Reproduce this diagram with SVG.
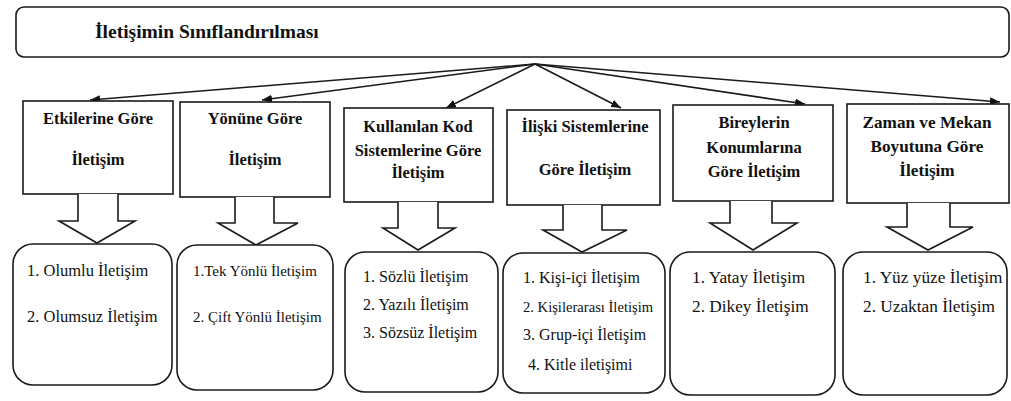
<svg xmlns="http://www.w3.org/2000/svg" width="1011" height="401" viewBox="0 0 1011 401">
<style>
.bx{fill:#fff;stroke:#1a1a1a;stroke-width:1.6}
.ba{fill:#fff;stroke:#1a1a1a;stroke-width:1.6;stroke-linejoin:miter}
.ln{stroke:#1a1a1a;stroke-width:1.6;fill:none}
.ttl{font-family:"Liberation Serif","Times New Roman",serif;font-weight:bold;font-size:19.5px;fill:#111}
.cat{font-family:"Liberation Serif","Times New Roman",serif;font-weight:bold;font-size:16.5px;fill:#111;text-anchor:middle}
.itm{font-family:"Liberation Serif","Times New Roman",serif;font-size:16px;fill:#111}
.c6{font-size:17.2px}
.s1{font-size:16.5px}
.s2{font-size:15px}
.s4{font-size:14.6px}
.s5{font-size:17.3px}
</style>
<defs>
<marker id="ah" markerUnits="userSpaceOnUse" markerWidth="10" markerHeight="8" refX="10" refY="4" orient="auto">
<path d="M0,0 L10,4 L0,8 z" fill="#111"/>
</marker>
</defs>
<rect width="1011" height="401" fill="#fff"/>

<g id="title">
<rect class="bx" x="16" y="7" width="993" height="50" rx="8"/>
<text class="ttl" x="95" y="38">İletişimin Sınıflandırılması</text>
</g>

<g id="connectors">
<line class="ln" x1="535" y1="64" x2="90" y2="100" marker-end="url(#ah)"/>
<line class="ln" x1="535" y1="64" x2="262" y2="100" marker-end="url(#ah)"/>
<line class="ln" x1="535" y1="64" x2="446" y2="108" marker-end="url(#ah)"/>
<line class="ln" x1="535" y1="64" x2="621" y2="108" marker-end="url(#ah)"/>
<line class="ln" x1="535" y1="64" x2="805" y2="104" marker-end="url(#ah)"/>
<line class="ln" x1="535" y1="64" x2="1000" y2="102" marker-end="url(#ah)"/>
</g>

<g id="cat1">
<rect class="bx" x="23" y="101" width="150" height="93"/>
<text class="cat" x="98" y="124">Etkilerine Göre</text>
<text class="cat" x="98" y="165">İletişim</text>
<path class="ba" d="M78,194 V221 H59 L97,243 L135,221 H118 V194"/>
</g>
<g id="cat2">
<rect class="bx" x="180" y="102" width="150" height="95"/>
<text class="cat" x="255" y="124">Yönüne Göre</text>
<text class="cat" x="255" y="165">İletişim</text>
<path class="ba" d="M235,197 V223 H218 L256,245 L298,223 H274 V197"/>
</g>
<g id="cat3">
<rect class="bx" x="344" y="108" width="149" height="94"/>
<text class="cat" x="418" y="132">Kullanılan Kod</text>
<text class="cat" x="418" y="156">Sistemlerine Göre</text>
<text class="cat" x="418" y="178">İletişim</text>
<path class="ba" d="M398,202 V228 H383 L418,250 L455,228 H438 V202"/>
</g>
<g id="cat4">
<rect class="bx" x="507" y="110" width="153" height="95"/>
<text class="cat" x="585" y="132">İlişki Sistemlerine</text>
<text class="cat" x="585" y="175">Göre İletişim</text>
<path class="ba" d="M563,205 V230 H543 L582,252 L627,230 H602 V205"/>
</g>
<g id="cat5">
<rect class="bx" x="673" y="105" width="160" height="96"/>
<text class="cat" x="754" y="128">Bireylerin</text>
<text class="cat" x="754" y="153">Konumlarına</text>
<text class="cat" x="754" y="177">Göre İletişim</text>
<path class="ba" d="M730,201 V223 H710 L753,250 L797,223 H772 V201"/>
</g>
<g id="cat6">
<rect class="bx" x="847" y="104" width="162" height="99"/>
<text class="cat c6" x="927" y="128">Zaman ve Mekan</text>
<text class="cat c6" x="927" y="152">Boyutuna Göre</text>
<text class="cat c6" x="927" y="176">İletişim</text>
<path class="ba" d="M907,203 V227 H887 L928,250 L973,227 H950 V203"/>
</g>

<g id="list1">
<rect class="bx" x="13" y="244" width="159" height="141" rx="20"/>
<text class="itm s1" x="27" y="276">1. Olumlu İletişim</text>
<text class="itm s1" x="27" y="322">2. Olumsuz İletişim</text>
</g>
<g id="list2">
<rect class="bx" x="177" y="245" width="156" height="145" rx="20"/>
<text class="itm s2" x="193" y="276">1.Tek Yönlü  İletişim</text>
<text class="itm s2" x="193" y="322">2. Çift Yönlü İletişim</text>
</g>
<g id="list3">
<rect class="bx" x="345" y="252" width="153" height="140" rx="20"/>
<text class="itm" x="363" y="282">1. Sözlü İletişim</text>
<text class="itm" x="363" y="310">2. Yazılı İletişim</text>
<text class="itm" x="363" y="338">3. Sözsüz İletişim</text>
</g>
<g id="list4">
<rect class="bx" x="503" y="253" width="162" height="140" rx="20"/>
<text class="itm" x="523" y="283">1. Kişi-içi İletişim</text>
<text class="itm s4" x="523" y="312">2. Kişilerarası İletişim</text>
<text class="itm" x="523" y="340">3. Grup-içi İletişim</text>
<text class="itm" x="528" y="370">4. Kitle iletişimi</text>
</g>
<g id="list5">
<rect class="bx" x="670" y="252" width="165" height="143" rx="20"/>
<text class="itm s5" x="692" y="283">1. Yatay İletişim</text>
<text class="itm s5" x="692" y="312">2. Dikey İletişim</text>
</g>
<g id="list6">
<rect class="bx" x="843" y="252" width="164" height="143" rx="20"/>
<text class="itm s5" x="863" y="283">1. Yüz yüze İletişim</text>
<text class="itm s5" x="863" y="312">2. Uzaktan  İletişim</text>
</g>
</svg>
